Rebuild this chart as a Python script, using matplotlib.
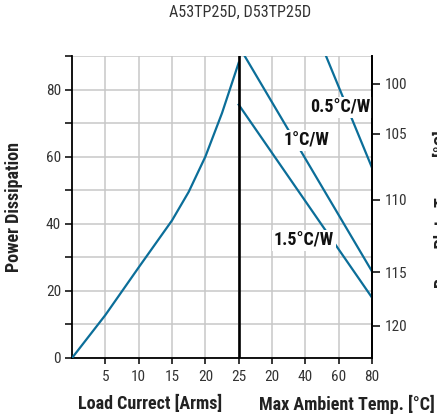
import os
import matplotlib
matplotlib.use("Agg")
from matplotlib import pyplot as plt
from matplotlib import font_manager as fm
from matplotlib.ticker import MultipleLocator

# Power dissipation vs load current (left part)
current = [0, 5, 10, 15, 17.5, 20, 22.5, 25]
power = [0, 12.8, 27, 41, 49.5, 60, 73, 88]

# Derating lines vs ambient temperature (right part, x 25..45)
r15_x = [25, 45]
r15_y = [75.5, 18]
r10_x = [25.9, 45]
r10_y = [90, 25.8]
r05_x = [38.1, 45]
r05_y = [90, 56.7]

xtick_pos = [5, 10, 15, 20, 25, 30, 35, 40, 45]
xtick_lab = ['5', '10', '15', '20', '25', '20', '40', '60', '80']

plate_pos = [81.7, 66.8, 47.1, 25.5, 9.6]
plate_lab = ['100', '105', '110', '115', '120']

blue = '#0b6e99'
txt = '#333333'


def narrow_font(bold):
    # look for a condensed / narrow face, else DejaVu Sans
    best = None
    for f in fm.fontManager.ttflist:
        base = os.path.basename(f.fname).lower()
        name = f.name.lower()
        if not ('narrow' in base or 'condensed' in base or 'narrow' in name
                or 'condensed' in name or f.stretch == 'condensed'):
            continue
        if 'italic' in base or 'oblique' in base:
            continue
        isbold = 'bold' in base or f.weight in ('bold', 700)
        if isbold != bold:
            continue
        if 'light' in base or 'thin' in base or 'extra' in base or 'semi' in base \
                or 'medium' in base or 'black' in base:
            continue
        score = 0
        if 'liberation' in base:
            score = 3
        elif 'roboto' in base:
            score = 2
        elif 'dejavu' in base:
            score = 1
        if best is None or score > best[0]:
            best = (score, f.fname)
    if best is None:
        return fm.FontProperties(family='DejaVu Sans',
                                 weight='bold' if bold else 'normal'), False
    return fm.FontProperties(fname=best[1]), True


reg, found = narrow_font(False)
bld, found_b = narrow_font(True)
k = 1.0 if found else 0.85

fig = plt.figure(figsize=(4.37, 4.19), dpi=100)
ax = fig.add_axes([0.1648, 0.1456, 0.6865, 0.7207])

ax.plot(current, power, color=blue, lw=1.6, zorder=3)
ax.plot(r15_x, r15_y, color=blue, lw=1.6, zorder=3)
ax.plot(r10_x, r10_y, color=blue, lw=1.6, zorder=3)
ax.plot(r05_x, r05_y, color=blue, lw=1.6, zorder=3)
ax.axvline(25, color='black', lw=1.9, zorder=4)

ax.set_xlim(0, 45)
ax.set_ylim(0, 90)
ax.set_xticks(xtick_pos)
ax.set_xticklabels(xtick_lab)
ax.yaxis.set_major_locator(MultipleLocator(20))
ax.yaxis.set_minor_locator(MultipleLocator(10))
ax.grid(True, which='both', color='#c8c8c8', lw=1.1, zorder=0)
ax.tick_params(axis='x', length=4, width=1.1, color='black', labelcolor=txt, pad=5)
ax.tick_params(axis='y', which='both', length=5, width=1.1, color='black',
               labelcolor=txt, pad=3)
ax.spines['top'].set_visible(False)
for s in ['left', 'right', 'bottom']:
    ax.spines[s].set_linewidth(1.3)

ax2 = ax.twinx()
ax2.set_ylim(0, 90)
ax2.set_yticks(plate_pos)
ax2.set_yticklabels(plate_lab)
ax2.tick_params(axis='y', length=6, width=1.1, color='black', labelcolor=txt, pad=3)
for s in ['top', 'left', 'bottom']:
    ax2.spines[s].set_visible(False)
ax2.spines['right'].set_linewidth(1.3)

for lab in ax.get_xticklabels() + ax.get_yticklabels() + ax2.get_yticklabels():
    lab.set_fontproperties(reg)
    lab.set_fontsize(11 * k)

box = dict(facecolor='white', edgecolor='none', pad=1)
ax.text(40.2, 74.6, '0.5°C/W', fontproperties=bld, fontsize=13 * k, color='#111111',
        ha='center', va='center', bbox=box, zorder=5)
ax.text(35.2, 64.7, '1°C/W', fontproperties=bld, fontsize=13 * k, color='#111111',
        ha='center', va='center', bbox=box, zorder=5)
ax.text(34.8, 34.9, '1.5°C/W', fontproperties=bld, fontsize=13 * k, color='#111111',
        ha='center', va='center', bbox=box, zorder=5)

ax.set_ylabel('Power Dissipation', fontproperties=bld, fontsize=13 * k, color='#222222')
ax.yaxis.set_label_coords(-0.165, 0.5)

fig.text(240 / 437, 1 - 12 / 419, 'A53TP25D, D53TP25D', fontproperties=reg,
         fontsize=11.6 * k, color=txt, ha='center', va='center')
fig.text(150 / 437, 1 - 404 / 419, 'Load Currect [Arms]', fontproperties=bld,
         fontsize=13 * k, color='#222222', ha='center', va='center')
fig.text(347 / 437, 1 - 404 / 419, 'Max Ambient Temp. [°C]', fontproperties=bld,
         fontsize=13 * k, color='#222222', ha='center', va='center')
fig.text(442 / 437, 0.5, 'Base Plate Temp. [°C]', fontproperties=bld,
         fontsize=13 * k, color='#222222', ha='center', va='center', rotation=90)

fig.savefig('out.png', dpi=100)
